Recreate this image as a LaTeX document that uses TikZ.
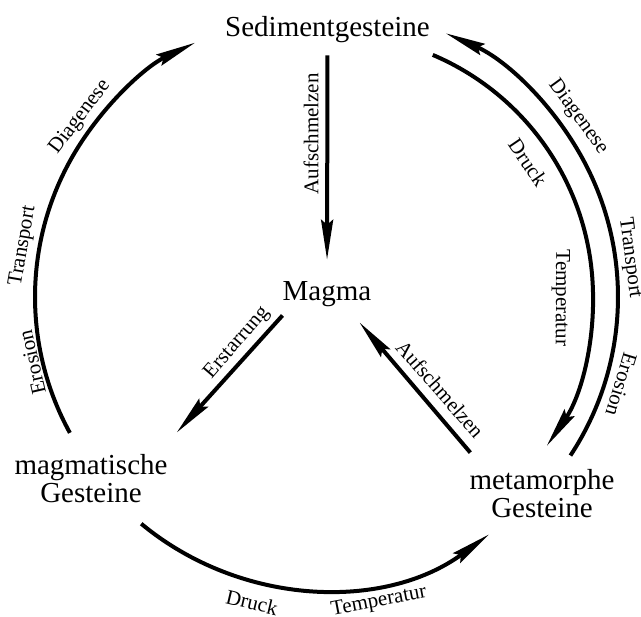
\documentclass[tikz,border=0pt]{standalone}
\usepackage{fontspec}
\setmainfont{Liberation Serif}
\usetikzlibrary{arrows.meta}
\tikzset{
  big/.style={font=\fontsize{29}{28}\selectfont, inner sep=0pt, align=center},
  lbl/.style={font=\fontsize{21}{24}\selectfont, inner sep=0pt},
  conn/.style={line width=4pt, -{Stealth[length=40pt,width=12pt,inset=5pt]}},
}
\begin{document}
\begin{tikzpicture}[x=1pt,y=1pt]
\path[use as bounding box, fill=white] (0,0) rectangle (641,-617);

% centres of the circular arcs
\coordinate (cL) at (317,-297);
\coordinate (cB) at (322,-306);
\coordinate (cR) at (330,-297);

% main nodes
\node[big, anchor=base] (sed) at (327.5,-37) {Sedimentgesteine};
\node[big, anchor=base] (magma) at (327,-301) {Magma};
\node[big] (magm) at (91,-479) {magmatische\\Gesteine};
\node[big] (meta) at (542,-494) {metamorphe\\Gesteine};

% straight connectors
\draw[conn, shorten <=12pt, shorten >=22pt] (sed.south) -- (magma.north);
\draw[conn] ([yshift=-8pt]magma.south west) -- ([shift={(9pt,22pt)}]magm.north east);
\draw[conn] ([shift={(1pt,17pt)}]meta.north west) -- ([shift={(-12pt,-15pt)}]magma.south east);

% labels of straight connectors
\node[lbl, rotate=90] (lAuf1) at (311,-134) {Aufschmelzen};
\node[lbl, rotate=49.4] (lErst) at (237,-343) {Erstarrung};
\node[lbl, rotate=-48.7] (lAuf2) at (440,-389) {Aufschmelzen};

% left arc: magmatische -> Sediment
\draw[conn] ([shift={(208.8:282)}]cL) arc[start angle=208.8, end angle=115.6, radius=282];
\node[lbl, anchor=south, rotate=52.8] (lDiaL) at ([shift={(142.8:288)}]cL) {Diagenese};
\node[lbl, anchor=south, rotate=80.2] (lTraL) at ([shift={(170.2:289)}]cL) {Transport};
\node[lbl, anchor=south, rotate=102.9] (lEroL) at ([shift={(192.9:285)}]cL) {Erosion};

% bottom arc: magmatische -> metamorphe
\draw[conn] ([shift={(230.3:283)}]cB) arc[start angle=230.3, end angle=306.2, radius=283];
\node[lbl, anchor=north, rotate=346.7] (lDruB) at ([shift={(256.7:297)}]cB) {Druck};
\node[lbl, anchor=north, rotate=10.9] (lTemB) at ([shift={(280.9:292)}]cB) {Temperatur};

% outer right arc: metamorphe -> Sediment
\draw[conn] ([shift={(-33.4:288)}]cR) arc[start angle=-33.4, end angle=66.3, radius=288];
\node[lbl, anchor=south, rotate=-54] (lDiaR) at ([shift={(36:297)}]cR) {Diagenese};
\node[lbl, anchor=south, rotate=-82.6] (lTraR) at ([shift={(7.4:293)}]cR) {Transport};
\node[lbl, anchor=south, rotate=-106.7] (lEroR) at ([shift={(-16.7:297)}]cR) {Erosion};

% inner right arc: Sediment -> metamorphe
\draw[conn] ([shift={(67:263)}]cR) arc[start angle=67, end angle=-34.5, radius=263];
\node[lbl, anchor=north, rotate=-55.8] (lDruR) at ([shift={(34.2:247)}]cR) {Druck};
\node[lbl, anchor=north, rotate=-90.25] (lTemR) at ([shift={(-0.25:240)}]cR) {Temperatur};
\end{tikzpicture}
\end{document}
